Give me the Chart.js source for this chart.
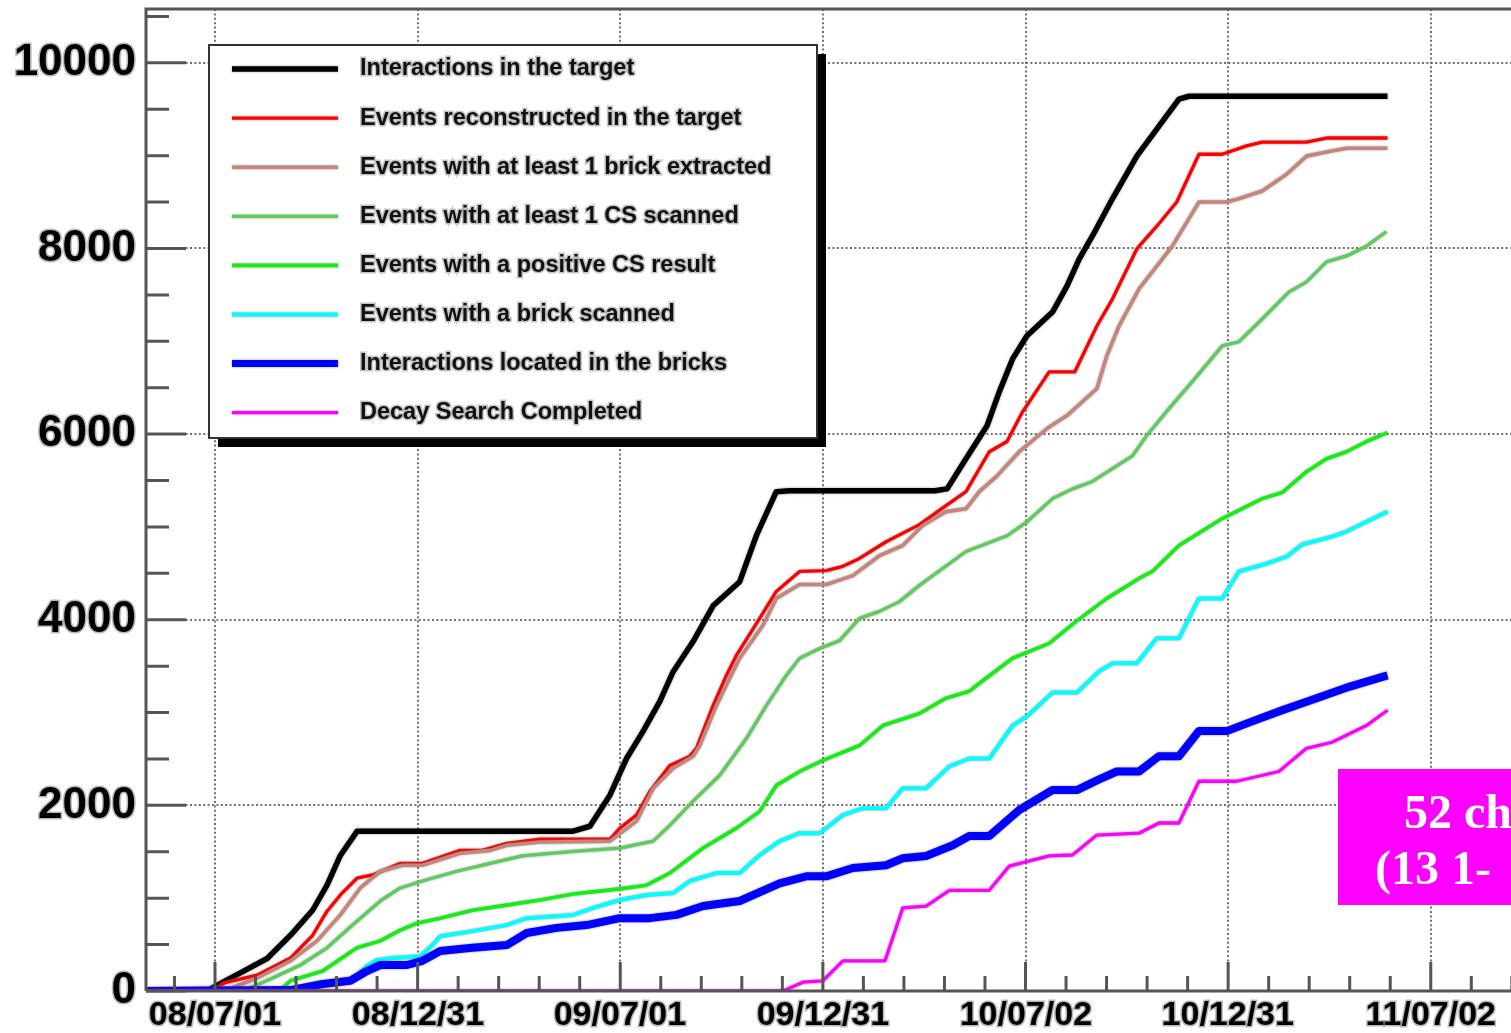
<!DOCTYPE html>
<html>
<head>
<meta charset="utf-8">
<script src="https://cdn.jsdelivr.net/npm/chart.js@4.4.0/dist/chart.umd.min.js"></script>
<style>
html, body { margin: 0; padding: 0; background: #fff; overflow: hidden; }
#wrap { width: 1511px; height: 1033px; overflow: hidden; position: relative; }
canvas { display: block; }
</style>
</head>
<body>
<div id="wrap"><canvas id="chart" width="1560" height="1033"></canvas></div>
<script>
// x values are days counted from 2008-07-01
const tickDays = [0, 183, 365, 548, 731, 913, 1096];
const tickLabels = ['08/07/01', '08/12/31', '09/07/01', '09/12/31', '10/07/02', '10/12/31', '11/07/02'];
const yTickValues = [0, 2000, 4000, 6000, 8000, 10000];

const seriesNames = [
  'Interactions in the target',
  'Events reconstructed in the target',
  'Events with at least 1 brick extracted',
  'Events with at least 1 CS scanned',
  'Events with a positive CS result',
  'Events with a brick scanned',
  'Interactions located in the bricks',
  'Decay Search Completed'
];

const targetDays = [-62, -7, 0, 22, 47, 68, 88, 101, 113, 128, 322, 338, 356, 371, 386, 401, 413, 431, 449, 473,
  488, 506, 518, 649, 660, 677, 696, 707, 719, 732, 755, 768, 779, 791, 809, 831, 849, 869, 878, 1057];
const targetVals = [0, 0, 50, 190, 350, 600, 870, 1140, 1460, 1720, 1720, 1775, 2110, 2505, 2800, 3120, 3440, 3765, 4150, 4410,
  4905, 5380, 5390, 5390, 5410, 5735, 6090, 6455, 6810, 7060, 7315, 7595, 7885, 8135, 8535, 8995, 9285, 9610, 9640, 9640];

const recoDays = [-62, 0, 7, 38, 68, 88, 101, 113, 128, 142, 167, 187, 221, 241, 263, 293, 356, 365, 380, 392,
  410, 428, 434, 449, 461, 470, 491, 506, 527, 551, 566, 581, 605, 635, 659, 677, 698, 714, 728, 752,
  775, 795, 809, 831, 849, 867, 887, 908, 930, 944, 984, 1002, 1057];
const recoVals = [0, 10, 85, 170, 355, 600, 860, 1035, 1215, 1250, 1375, 1375, 1515, 1515, 1590, 1635, 1635, 1755, 1895, 2150,
  2430, 2530, 2615, 3075, 3400, 3615, 4015, 4305, 4520, 4530, 4575, 4660, 4840, 5025, 5230, 5380, 5810, 5920, 6240, 6670,
  6670, 7165, 7455, 7995, 8240, 8500, 9015, 9015, 9105, 9145, 9145, 9190, 9190];

const brickDays = [-62, 14, 38, 68, 92, 113, 131, 149, 169, 187, 221, 248, 263, 293, 356, 380, 395, 413, 431, 437,
  452, 464, 473, 494, 506, 527, 551, 575, 599, 620, 638, 659, 677, 689, 705, 725, 750, 768, 782, 795,
  804, 815, 833, 849, 863, 887, 912, 923, 944, 966, 984, 1002, 1020, 1057];
const brickVals = [0, 30, 140, 325, 540, 820, 1110, 1290, 1355, 1355, 1485, 1515, 1570, 1605, 1615, 1830, 2185, 2400, 2530, 2645,
  3075, 3370, 3585, 3940, 4230, 4380, 4380, 4475, 4690, 4800, 5015, 5165, 5195, 5380, 5550, 5810, 6060, 6200, 6350, 6490,
  6845, 7165, 7565, 7810, 8025, 8500, 8500, 8535, 8620, 8800, 8995, 9040, 9080, 9080];

const csDays = [-62, 29, 52, 77, 101, 124, 149, 167, 187, 218, 248, 277, 323, 365, 395, 410, 431, 455, 479, 497,
  515, 527, 545, 563, 581, 599, 617, 635, 677, 714, 732, 755, 773, 791, 827, 840, 860, 881, 908, 923,
  944, 968, 984, 1002, 1020, 1038, 1056];
const csVals = [0, 20, 140, 280, 465, 710, 970, 1110, 1185, 1290, 1375, 1455, 1505, 1540, 1615, 1785, 2045, 2325, 2720, 3075,
  3400, 3585, 3690, 3775, 4015, 4090, 4195, 4370, 4735, 4905, 5055, 5305, 5410, 5490, 5765, 5985, 6275, 6565, 6950, 6995,
  7240, 7530, 7640, 7855, 7920, 8025, 8180];

const posDays = [-62, 59, 68, 97, 128, 149, 167, 182, 203, 232, 263, 293, 323, 365, 389, 410, 440, 470, 491, 506,
  527, 548, 581, 602, 635, 659, 680, 695, 719, 752, 776, 804, 833, 845, 869, 908, 944, 962, 984, 1002,
  1020, 1038, 1057];
const posVals = [0, 10, 110, 215, 465, 540, 655, 730, 785, 870, 925, 980, 1045, 1100, 1140, 1270, 1540, 1755, 1935, 2215,
  2365, 2485, 2645, 2860, 2990, 3155, 3230, 3370, 3585, 3745, 3980, 4230, 4445, 4520, 4800, 5090, 5305, 5370, 5595, 5735,
  5810, 5920, 6015];

const scanDays = [-62, 77, 101, 124, 137, 146, 160, 185, 196, 203, 232, 263, 281, 323, 341, 365, 389, 413, 428, 452,
  473, 491, 509, 527, 545, 566, 584, 605, 620, 641, 662, 680, 698, 719, 732, 755, 777, 797, 809, 831,
  849, 869, 887, 908, 923, 948, 966, 980, 1007, 1020, 1038, 1057];
const scanVals = [0, 10, 85, 130, 270, 335, 355, 375, 495, 590, 645, 710, 785, 820, 895, 980, 1035, 1055, 1185, 1270,
  1270, 1465, 1615, 1700, 1700, 1895, 1970, 1970, 2185, 2185, 2420, 2505, 2505, 2860, 2960, 3215, 3215, 3445, 3530, 3530,
  3800, 3800, 4230, 4230, 4520, 4605, 4680, 4810, 4895, 4950, 5055, 5165];

const locDays = [-62, 68, 97, 122, 137, 149, 173, 187, 203, 232, 263, 281, 308, 335, 365, 392, 416, 440, 473, 509,
  533, 551, 575, 605, 620, 641, 665, 680, 698, 725, 755, 777, 797, 813, 833, 851, 869, 887, 912, 935,
  962, 993, 1023, 1057];
const locVals = [0, 10, 75, 110, 215, 280, 280, 325, 430, 465, 495, 625, 680, 710, 785, 785, 820, 915, 970, 1160,
  1235, 1235, 1325, 1355, 1430, 1455, 1570, 1670, 1670, 1950, 2165, 2165, 2280, 2365, 2365, 2530, 2530, 2800, 2800, 2905,
  3025, 3155, 3280, 3400];

const decayDays = [-62, 512, 530, 548, 566, 604, 620, 641, 662, 698, 716, 752, 773, 795, 833, 851, 869, 887, 921, 959,
  984, 1007, 1038, 1057];
const decayVals = [0, 0, 95, 110, 325, 325, 895, 915, 1085, 1085, 1345, 1455, 1465, 1680, 1700, 1810, 1810, 2260, 2260, 2365,
  2615, 2680, 2860, 3025];

// styles
const lineColors = ['#000000', '#ff0000', '#c4857a', '#5ccc5c', '#12ef12', '#00ffff', '#0000ff', '#ff00ff'];
const lineWidths = [5.5, 3.3, 3.6, 3.3, 3.6, 4, 8, 3.3];

const allDays = [targetDays, recoDays, brickDays, csDays, posDays, scanDays, locDays, decayDays];
const allVals = [targetVals, recoVals, brickVals, csVals, posVals, scanVals, locVals, decayVals];

const datasets = seriesNames.map((name, i) => ({
  label: name,
  data: allDays[i].map((d, k) => ({ x: d, y: allVals[i][k] })),
  borderColor: lineColors[i],
  borderWidth: lineWidths[i],
  pointRadius: 0,
  fill: false,
  order: -i
}));

const sansFont = '"Liberation Sans", Arial, Helvetica, sans-serif';

const rootFrame = {
  id: 'rootFrame',
  beforeDatasetDraw(chart) {
    const ctx = chart.ctx;
    ctx.save();
    ctx.shadowColor = 'rgba(90,90,90,0.6)';
    ctx.shadowBlur = 2.5;
  },
  afterDatasetDraw(chart) {
    chart.ctx.restore();
  },
  afterDatasetsDraw(chart) {
    const { ctx, chartArea: a, scales: { x, y } } = chart;
    ctx.save();
    ctx.strokeStyle = '#555';
    ctx.lineWidth = 3;
    ctx.lineCap = 'butt';

    // inside ticks on x
    const xStep = (tickDays[tickDays.length - 1] - tickDays[0]) / (tickDays.length - 1) / 5;
    ctx.beginPath();
    for (let k = -10; k < 60; k++) {
      const v = tickDays[0] + k * xStep;
      if (v < x.min || v > x.max) continue;
      const px = x.getPixelForValue(v);
      const len = (k % 5 === 0) ? 29 : 15;
      ctx.moveTo(px, a.bottom);
      ctx.lineTo(px, a.bottom - len);
    }
    // inside ticks on y
    for (let v = 0; v <= y.max; v += 500) {
      const py = y.getPixelForValue(v);
      const len = (v % 2000 === 0) ? 40 : 23;
      ctx.moveTo(a.left, py);
      ctx.lineTo(a.left + len, py);
    }
    ctx.stroke();

    // frame
    ctx.beginPath();
    ctx.moveTo(a.left, a.bottom);
    ctx.lineTo(a.left, a.top);
    ctx.lineTo(a.right, a.top);
    ctx.lineTo(a.right, a.bottom);
    ctx.lineTo(a.left, a.bottom);
    ctx.stroke();

    // legend box with shadow
    const bx = 209, by = 45, bw = 608, bh = 393;
    ctx.fillStyle = '#000';
    ctx.fillRect(bx + 9, by + 9, bw, bh);
    ctx.fillStyle = '#fff';
    ctx.fillRect(bx, by, bw, bh);
    ctx.strokeStyle = '#333';
    ctx.lineWidth = 2;
    ctx.strokeRect(bx, by, bw, bh);

    chart.data.datasets.forEach((ds, i) => {
      const ly = 69 + i * 49.1;
      ctx.save();
      ctx.shadowColor = 'rgba(90,90,90,0.6)';
      ctx.shadowBlur = 2.5;
      ctx.strokeStyle = ds.borderColor;
      ctx.lineWidth = Math.min(ds.borderWidth, 7);
      ctx.beginPath();
      ctx.moveTo(232, ly);
      ctx.lineTo(338, ly);
      ctx.stroke();
      ctx.restore();

      ctx.save();
      ctx.font = 'bold 23.5px ' + sansFont;
      ctx.textBaseline = 'middle';
      ctx.textAlign = 'left';
      ctx.lineWidth = 3;
      ctx.strokeStyle = 'rgba(150,150,150,0.55)';
      ctx.strokeText(ds.label, 360, ly);
      ctx.fillStyle = '#111';
      ctx.fillText(ds.label, 360, ly);
      ctx.restore();
    });
    ctx.restore();
  },
  afterDraw(chart) {
    const ctx = chart.ctx;
    ctx.save();
    ctx.fillStyle = '#ff00ff';
    ctx.fillRect(1338, 769, 300, 136);
    ctx.fillStyle = '#fff';
    ctx.font = 'bold 48px "Liberation Serif", "Times New Roman", serif';
    ctx.textAlign = 'left';
    ctx.textBaseline = 'alphabetic';
    ctx.fillText('52 ch', 1404, 828);
    ctx.fillText('(13 1-', 1375, 884);
    ctx.restore();
  }
};

const gridStyle = { color: 'rgba(105,105,105,0.95)', lineWidth: 2, drawTicks: false };

new Chart(document.getElementById('chart'), {
  type: 'line',
  data: { datasets },
  options: {
    responsive: false,
    animation: false,
    devicePixelRatio: 1,
    layout: { padding: { top: 9, right: 5, left: 0, bottom: 0 } },
    plugins: { legend: { display: false }, tooltip: { enabled: false } },
    elements: { line: { tension: 0, borderJoinStyle: 'round' } },
    scales: {
      x: {
        type: 'linear',
        min: -62.2,
        max: 1208,
        afterBuildTicks: s => { s.ticks = tickDays.map(v => ({ value: v })); },
        afterFit: s => { s.height = 42; s.paddingLeft = 0; s.paddingRight = 0; },
        grid: gridStyle,
        border: { display: false, dash: [2, 2.4] },
        ticks: {
          autoSkip: false,
          maxRotation: 0,
          padding: 4,
          color: '#000',
          textStrokeColor: 'rgba(140,140,140,0.6)',
          textStrokeWidth: 3,
          font: { family: sansFont, size: 34, weight: 'bold' },
          callback: (v, i) => tickLabels[i]
        }
      },
      y: {
        min: 0,
        max: 10580,
        afterBuildTicks: s => { s.ticks = yTickValues.map(v => ({ value: v })); },
        afterFit: s => { s.width = 146; s.paddingTop = 0; s.paddingBottom = 0; },
        grid: gridStyle,
        border: { display: false, dash: [2, 2.4] },
        ticks: {
          padding: 10,
          color: '#000',
          textStrokeColor: 'rgba(140,140,140,0.6)',
          textStrokeWidth: 3,
          font: { family: sansFont, size: 44, weight: 'bold' },
          callback: v => String(v)
        }
      }
    }
  },
  plugins: [rootFrame]
});
</script>
</body>
</html>
